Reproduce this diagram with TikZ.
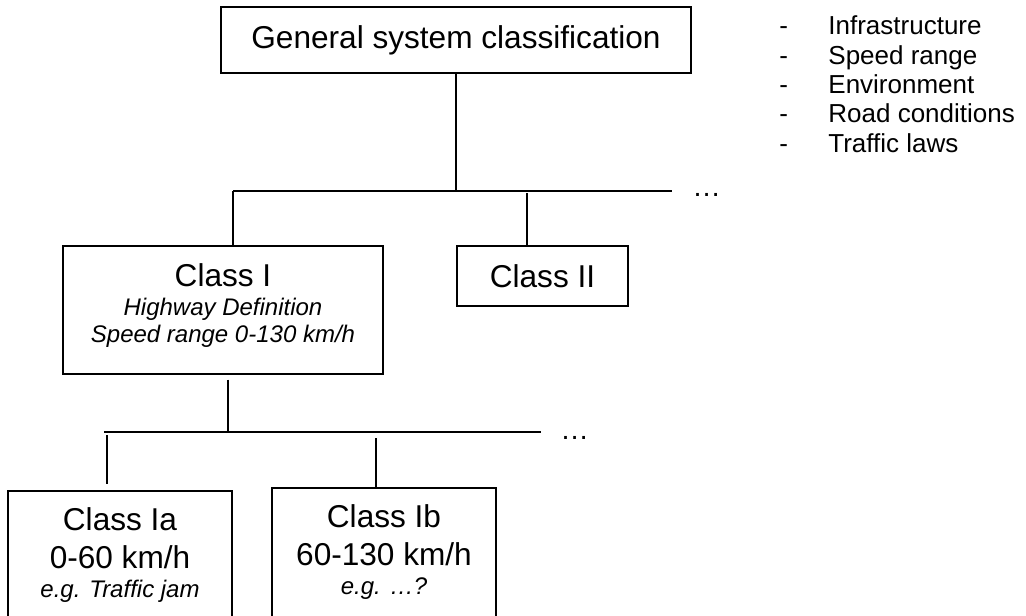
\documentclass[tikz,border=0pt]{standalone}
\usepackage{fontspec}
\setmainfont{Liberation Sans}
\begin{document}
\begin{tikzpicture}[x=0.5pt,y=-0.5pt]

        % Styles
        \tikzstyle{class box}=[draw,rectangle,inner sep=0pt,line width=0.6pt]
        \tikzstyle{big text}=[inner sep=0pt,font=\fontsize{15.8}{19}\selectfont]
        \tikzstyle{small text}=[inner sep=0pt,anchor=base,font=\fontsize{12}{14}\selectfont\itshape]
        \tikzstyle{list text}=[inner sep=0pt,anchor=base west,font=\fontsize{13}{15}\selectfont]
        \tikzstyle{more text}=[inner sep=0pt,anchor=base west,font=\fontsize{14.3}{17}\selectfont]
        \tikzstyle{important line}=[line width=0.6pt]
        %The graphic
        \useasboundingbox (0,0) rectangle (1026,615);
        \clip (0,0) rectangle (1026,615);
        %boxes
        \node[class box,big text,minimum width=235pt,minimum height=33pt] (gsc) at (456,40) {General system classification};
        \node[class box,minimum width=160pt,minimum height=64pt] (ci) at (223,310) {};
        \node[class box,big text,minimum width=85.5pt,minimum height=30pt] (cii) at (542.5,276) {Class II};
        \node[class box,minimum width=112pt,minimum height=67pt] (cia) at (120,558) {};
        \node[class box,minimum width=112pt,minimum height=68.5pt] (cib) at (384,556.5) {};
        %box texts
        \node[big text,anchor=base] (citext) at (223,286) {Class I};
        \node[small text] (cihwy) at (223,315) {Highway Definition};
        \node[small text] (cispeed) at (223,342) {Speed range 0-130 km/h};
        \node[big text,anchor=base] (ciatext) at (120,530) {Class Ia};
        \node[big text,anchor=base] (ciaspeed) at (120,568) {0-60 km/h};
        \node[small text] (ciaeg) at (120,597) {e.g. Traffic jam};
        \node[big text,anchor=base] (cibtext) at (384,527) {Class Ib};
        \node[big text,anchor=base] (cibspeed) at (384,565) {60-130 km/h};
        \node[small text] (cibeg) at (384,594) {e.g. …?};
        %criteria list
        \foreach \i/\itemtext in {0/Infrastructure,1/Speed range,2/Environment,3/Road conditions,4/Traffic laws}
        {
            \node[list text] (dash\i) at (779,35+29.25*\i) {-};
            \node[list text] (item\i) at (828,35+29.25*\i) {\itemtext};
        }
        %connectors
        \coordinate (bus1w) at (233,191);
        \coordinate (bus1e) at (672,191);
        \coordinate (drop2) at (527,191);
        \coordinate (bus2top) at (228,432);
        \coordinate (bus2w) at (104,432);
        \coordinate (bus2e) at (541,432);
        \coordinate (drop3) at (107,432);
        \coordinate (drop4) at (376,432);
        \begin{scope}[style=important line]
            \draw (gsc.south) -- (gsc.south |- bus1w);
            \draw (bus1w) -- (bus1e);
            \draw (bus1w) -- (bus1w |- ci.north);
            \draw[shorten <=1pt] (drop2) -- (drop2 |- cii.north);
            \draw[shorten <=2.5pt] (bus2top |- ci.south) -- (bus2top);
            \draw (bus2w) -- (bus2e);
            \draw[shorten <=1.5pt,shorten >=3pt] (drop3) -- (drop3 |- cia.north);
            \draw[shorten <=3pt] (drop4) -- (drop4 |- cib.north);
        \end{scope}
        \node[more text] (more1) at (692,196) {…};
        \node[more text] (more2) at (560,439) {…};
\end{tikzpicture}
\end{document}
